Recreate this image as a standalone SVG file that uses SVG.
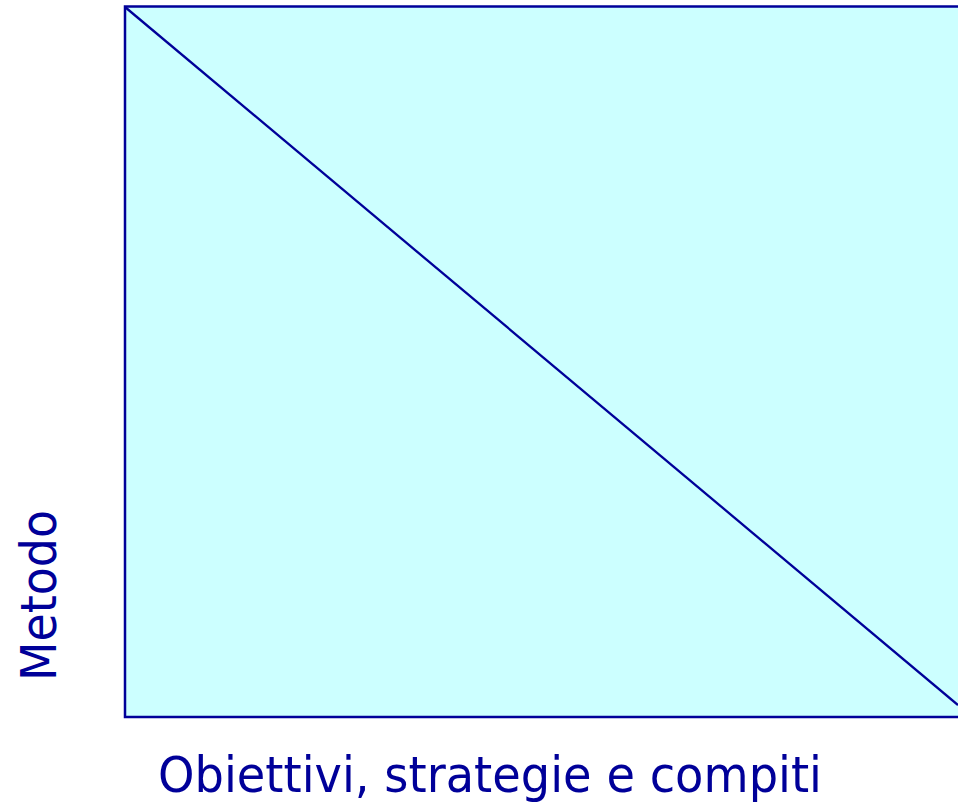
<svg xmlns="http://www.w3.org/2000/svg" width="958" height="804" viewBox="0 0 958 804">
<style>
.lbl{font-family:"DejaVu Sans","Liberation Sans",sans-serif;fill:#000099;font-size:50px}
</style>
<rect width="958" height="804" fill="#ffffff"/>
<g id="area">
<rect x="125" y="6.5" width="840" height="710.5" fill="#CCFFFF" stroke="#000099" stroke-width="2.5"/>
</g>
<g id="connectors">
<line x1="125" y1="7" x2="958" y2="705" stroke="#000099" stroke-width="2.3"/>
</g>
<g id="label-y">
<text class="lbl" transform="translate(56,681) rotate(-90)" textLength="171" lengthAdjust="spacingAndGlyphs">Metodo</text>
</g>
<g id="label-x">
<text class="lbl" x="158" y="792" textLength="664" lengthAdjust="spacingAndGlyphs">Obiettivi, strategie e compiti</text>
</g>
</svg>
